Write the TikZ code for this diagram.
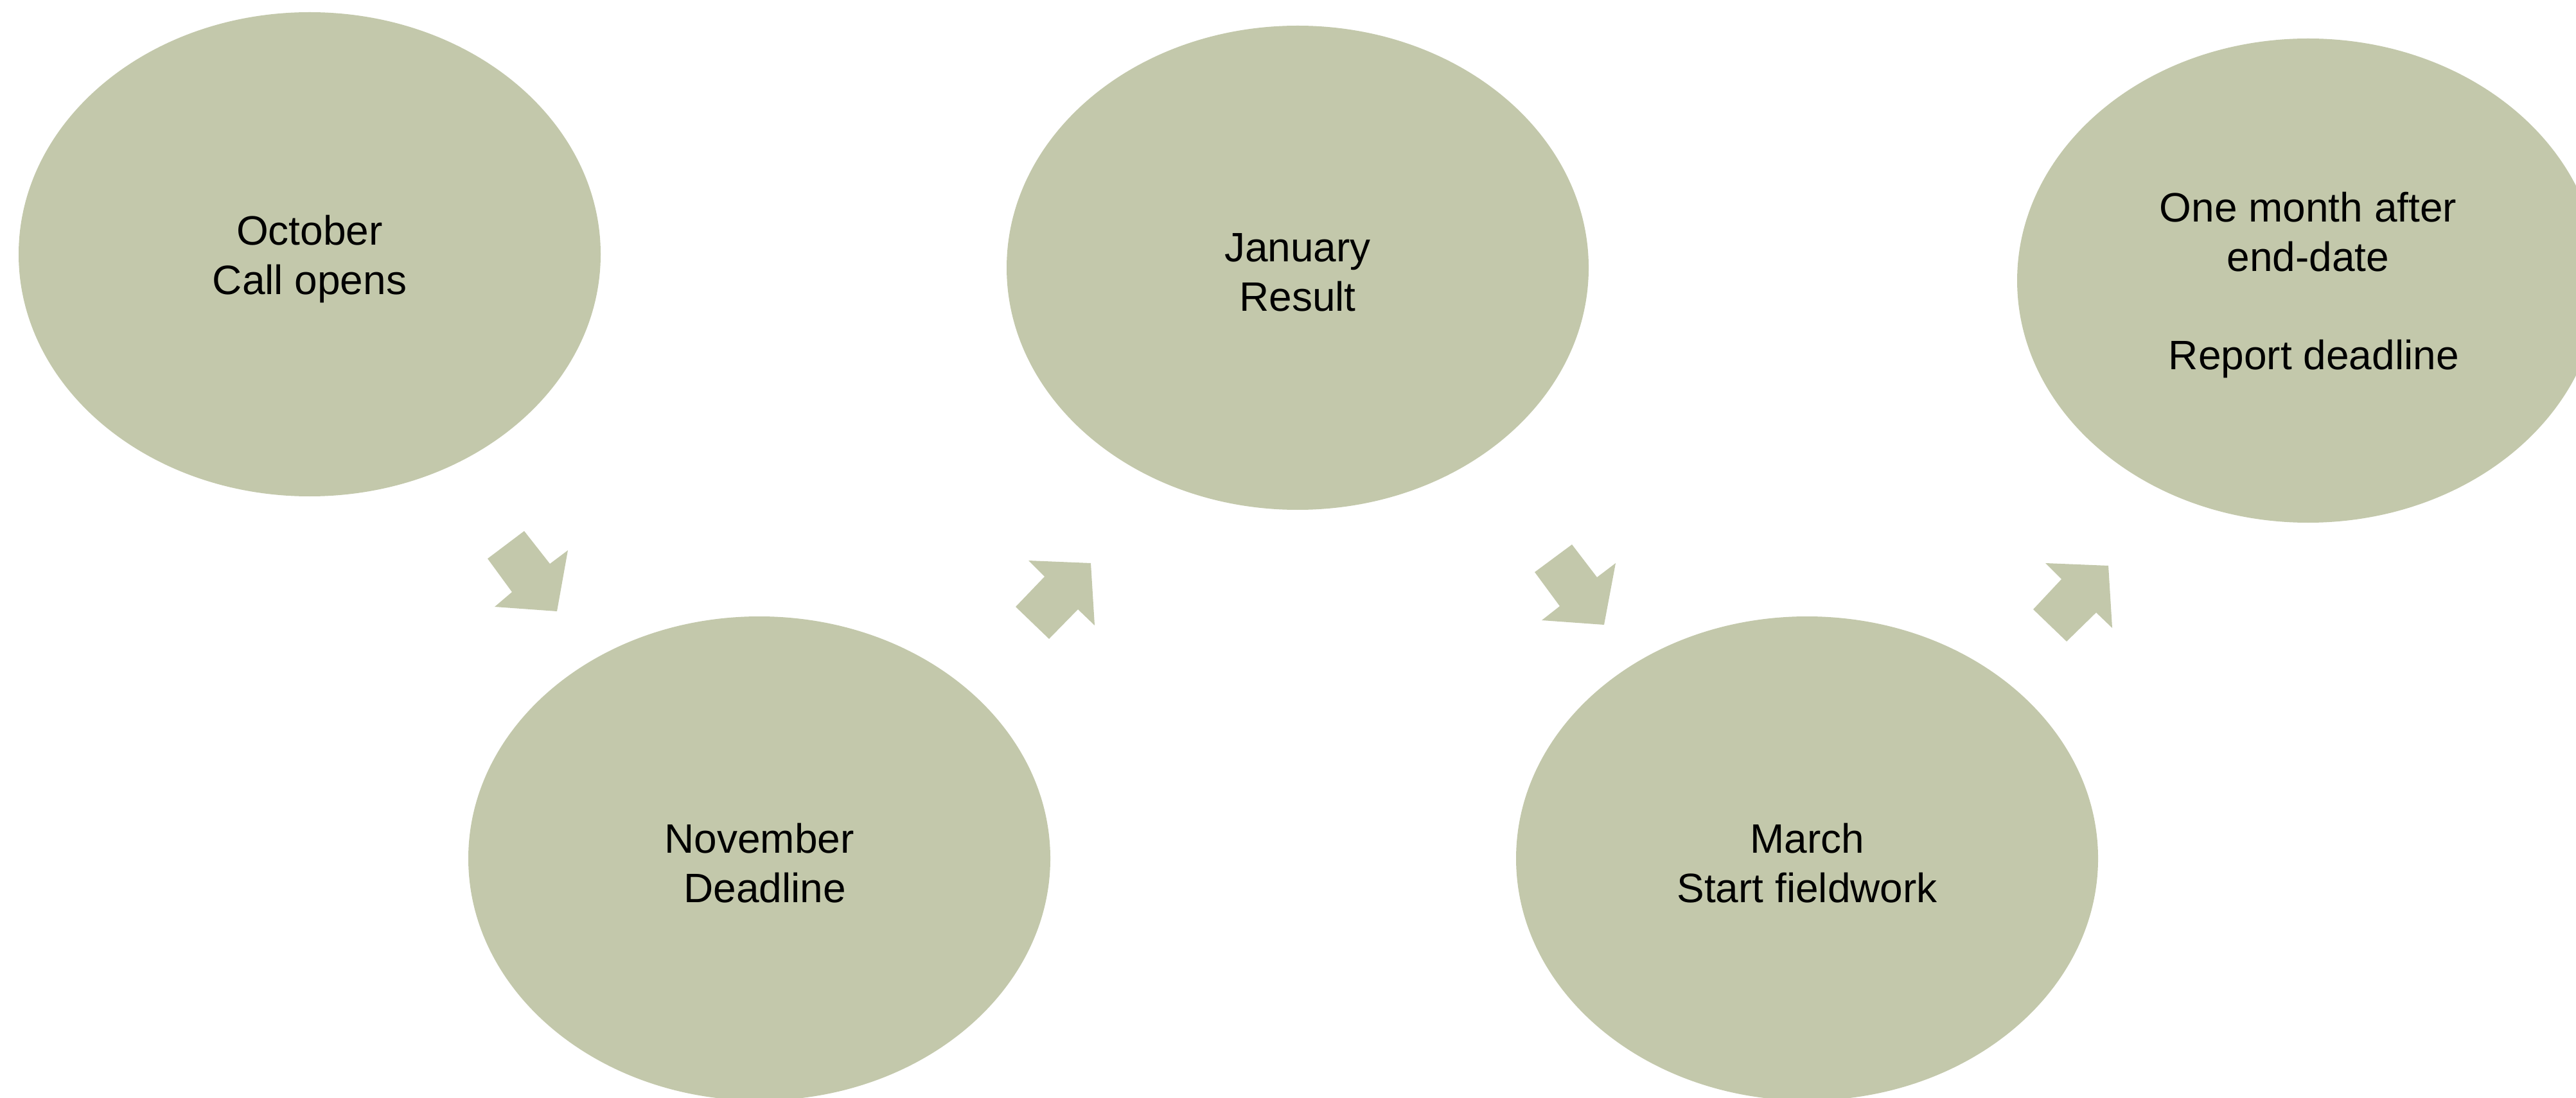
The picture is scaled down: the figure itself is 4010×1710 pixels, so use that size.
\documentclass[tikz,border=0pt]{standalone}
\usepackage{fontspec}
\setmainfont{Liberation Sans}
\usetikzlibrary{shapes.geometric}
\definecolor{sage}{RGB}{195,200,171}
\tikzset{
  bubble/.style={ellipse, fill=sage, draw=none, inner sep=0pt,
    minimum width=226.5pt, minimum height=188.5pt},
  lbl/.style={align=center, inner sep=0pt,
    font=\fontsize{16}{19.2}\selectfont, text=black},
  blockarrow/.style={fill=sage, draw=none}
}
\begin{document}
\begin{tikzpicture}[x=0.25pt, y=-0.25pt]
\useasboundingbox (0,0) rectangle (4010,1710);
\clip (0,0) rectangle (4010,1710);
\node[bubble] (oct) at (482,396) {};
\node[bubble] (nov) at (1182,1337) {};
\node[bubble] (jan) at (2020,417) {};
\node[bubble] (mar) at (2813,1337) {};
\node[bubble] (rep) at (3593,437) {};
\node[lbl] (octT) at ([yshift=-1.8pt]oct.center) {October\\Call opens};
\node[lbl] (novT) at ([yshift=-1.8pt]nov.center) {November\\\hspace*{4.4pt}Deadline};
\node[lbl] (janT) at ([yshift=-1.8pt]jan.center) {January\\Result};
\node[lbl] (marT) at ([yshift=-1.8pt]mar.center) {March\\Start fieldwork};
\node[lbl] (repT) at ([yshift=-1.8pt]rep.center) {One month after\\end-date\\[19.2pt]\hspace*{4.4pt}Report deadline};
% block arrows
\fill[blockarrow] (816,827) -- (759,870) -- (797,922) -- (770,945) -- (867,952) -- (884,857) -- (856,878) -- cycle;
\fill[blockarrow] (1601,873) -- (1698,877) -- (1704,974) -- (1678,949) -- (1633,995) -- (1581,945) -- (1626,898) -- cycle;
\fill[blockarrow] (2447,848) -- (2389,891) -- (2428,944) -- (2400,966) -- (2497,973) -- (2515,877) -- (2486,899) -- cycle;
\fill[blockarrow] (3184,877) -- (3282,881) -- (3288,978) -- (3263,954) -- (3217,999) -- (3165,949) -- (3209,902) -- cycle;
\end{tikzpicture}
\end{document}
